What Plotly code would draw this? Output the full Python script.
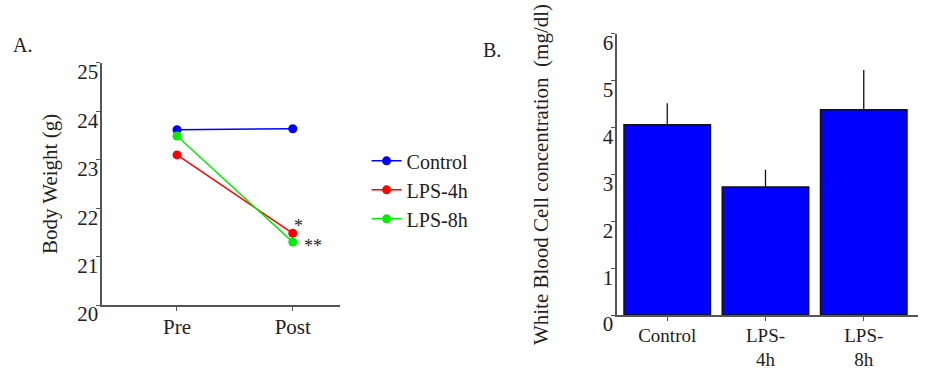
import plotly.graph_objects as go

# Panel A data
timepoints = ["Pre", "Post"]
control_bw = [23.62, 23.64]
lps4_bw = [23.10, 21.48]
lps8_bw = [23.49, 21.30]
bw_ticks = [20, 21, 22, 23, 24, 25]

# Panel B data
groups = ["Control", "LPS-<br>4h", "LPS-<br>8h"]
wbc = [4.06, 2.73, 4.38]
wbc_err = [0.46, 0.37, 0.85]
wbc_ticks = [0, 1, 2, 3, 4, 5, 6]

FONT = "'Liberation Serif', 'Times New Roman', Times, serif"
TXT = "#222"
AX = "#555"
FS = 21

fig = go.Figure()

series = [("Control", control_bw, "#0000ff"),
          ("LPS-4h", lps4_bw, "#ff0000"),
          ("LPS-8h", lps8_bw, "#00ee00")]
for name, vals, col in series:
    fig.add_trace(go.Scatter(x=timepoints, y=vals, name=name, mode="lines+markers",
                             line=dict(color=col, width=1.5),
                             marker=dict(color=col, size=9),
                             xaxis="x", yaxis="y"))

fig.add_trace(go.Bar(x=groups, y=wbc, width=0.88, showlegend=False,
                     marker=dict(color="#0000ff", line=dict(color="#111", width=1.5)),
                     error_y=dict(type="data", symmetric=False, array=wbc_err,
                                  arrayminus=[0]*len(wbc_err), color="#111",
                                  thickness=1.3, width=0),
                     xaxis="x2", yaxis="y2"))

axis_common = dict(showline=True, linecolor=AX, linewidth=1.5, ticks="outside",
                   tickcolor=AX, ticklen=4, showgrid=False, zeroline=False,
                   automargin=False)

def tf(size=FS):
    return dict(family=FONT, size=size, color=TXT)

fig.update_layout(
    width=928, height=372,
    margin=dict(l=0, r=0, t=0, b=0, autoexpand=False),
    paper_bgcolor="white", plot_bgcolor="white",
    font=dict(family=FONT, color=TXT),
    xaxis=dict(domain=[0.110, 0.366], anchor="y", type="category",
               range=[-0.647, 1.405], ticklabelstandoff=-2, tickfont=tf(), **axis_common),
    yaxis=dict(domain=[0.180, 0.831], anchor="x", range=[20, 25],
               tickvals=bw_ticks, ticklabelshift=9, ticklabelstandoff=-6, tickfont=tf(),
               title=dict(text="Body Weight (g)", standoff=14, font=tf()),
               **axis_common),
    xaxis2=dict(domain=[0.665, 0.989], anchor="y2", type="category",
                range=[-0.51, 2.55], ticklabelstandoff=-2, tickfont=tf(19), **axis_common),
    yaxis2=dict(domain=[0.153, 0.909], anchor="x2", range=[0, 6],
                tickvals=wbc_ticks, ticklabelshift=9, ticklabelstandoff=-6, tickfont=tf(),
                title=dict(text="White Blood Cell concentration  (mg/dl)", standoff=48,
                           font=tf()),
                **axis_common),
    legend=dict(x=0.395, y=0.62, xanchor="left", yanchor="top",
                font=tf(20), tracegroupgap=0, itemwidth=30, bgcolor="rgba(0,0,0,0)"),
)

W, H = 928, 372
def px(x, y):
    return x / W, 1 - y / H

anns = []
for text, x, y, size in [("A.", 22, 45, 20), ("B.", 492, 50, 20),
                         ("*", 298, 226, 18), ("**", 313, 246, 18)]:
    ax_, ay_ = px(x, y)
    anns.append(dict(text=text, x=ax_, y=ay_, xref="paper", yref="paper",
                     showarrow=False, xanchor="center", yanchor="middle",
                     font=tf(size)))
fig.update_layout(annotations=anns)

fig.write_html("out.html", config={"displayModeBar": False},
               post_script="document.body.style.margin='0px';")
